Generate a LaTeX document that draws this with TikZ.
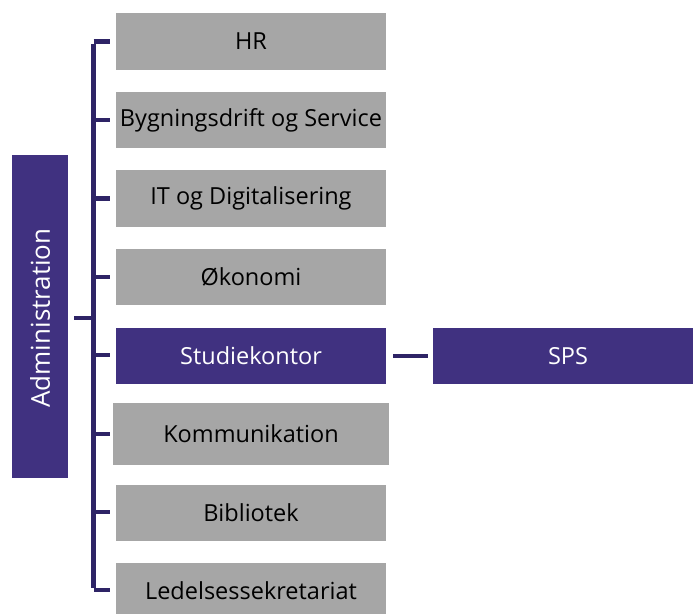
\documentclass[tikz,border=0pt]{standalone}
\usepackage{fontspec}
\setmainfont{Open Sans}
\definecolor{lila}{HTML}{403180}
\definecolor{linje}{HTML}{2E2466}
\definecolor{graa}{HTML}{A6A6A6}
\begin{document}
\begin{tikzpicture}[x=1pt,y=-1pt,
  unit/.style={fill=graa,draw=none,inner sep=0pt,text=black,font=\fontsize{23.5}{26}\selectfont},
  lilabox/.style={fill=lila,draw=none,inner sep=0pt,text=white,font=\fontsize{23.5}{26}\selectfont},
  conn/.style={draw=linje,line width=4.5pt}]
\useasboundingbox (0,0) rectangle (693,614);
\node[lilabox,minimum width=56pt,minimum height=323pt] (adm) at (40,316.5) {};
\node[text=white,font=\fontsize{26}{28}\selectfont,rotate=90] (admt) at (40,318) {Administration};
\node[unit,minimum width=270pt,minimum height=57pt] (hr) at (251,41.5) {HR};
\node[unit,minimum width=270pt,minimum height=56pt] (byg) at (251,120) {Bygningsdrift og Service};
\node[unit,minimum width=270pt,minimum height=57pt] (it) at (251,198.5) {IT og Digitalisering};
\node[unit,minimum width=270pt,minimum height=56pt] (oko) at (251,277) {Økonomi};
\node[lilabox,minimum width=270pt,minimum height=56pt] (stud) at (251,356) {Studiekontor};
\node[unit,minimum width=276pt,minimum height=62pt] (komm) at (251,434) {Kommunikation};
\node[unit,minimum width=270pt,minimum height=56pt] (bib) at (251,513) {Bibliotek};
\node[unit,minimum width=270pt,minimum height=51pt] (led) at (251,588.5) {};
\node[font=\fontsize{23.5}{26}\selectfont] (ledt) at (251,591) {Ledelsessekretariat};
\node[lilabox,minimum width=270pt,minimum height=56pt] (sps) at (568,356) {SPS};
\coordinate (top) at (93.5,41.5);
\coordinate (bot) at (93.5,590);
\coordinate (admj) at (74,318);
\draw[conn] ([yshift=-2.25pt]top) -- ([yshift=2.25pt]bot);
\draw[conn] (admj) -- (93.5,318);
\foreach \y in {41.5,120,198.5,277,355,434,512,590}{
  \draw[conn] (93.5,\y) -- (110,\y);
}
\draw[conn] ([xshift=7pt]stud.east) -- ([xshift=-5pt]sps.west);
\end{tikzpicture}
\end{document}
